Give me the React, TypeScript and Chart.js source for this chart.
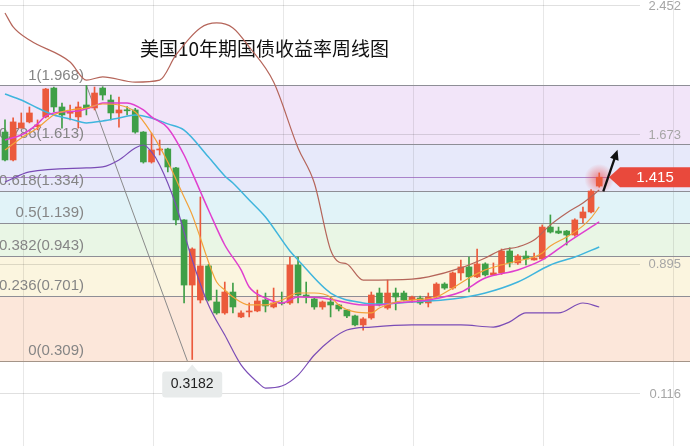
import React, { useEffect, useRef } from 'react';
import { Chart, registerables } from 'chart.js';

Chart.register(...registerables);

const TITLE = '美国10年期国债收益率周线图';

// Weekly candles (index 0..73)
const openP = [
  1.687, 1.519, 1.711, 1.748, 1.720, 1.778, 1.952, 1.838, 1.800, 1.778,
  1.850, 1.832, 1.952, 1.880, 1.802, 1.820, 1.820, 1.687, 1.507, 1.579,
  1.585, 1.471, 1.158, 0.766, 0.676, 0.881, 0.664, 0.598, 0.724, 0.574,
  0.604, 0.610, 0.676, 0.634, 0.660, 0.658, 0.887, 0.706, 0.682, 0.634,
  0.664, 0.646, 0.616, 0.580, 0.526, 0.568, 0.718, 0.628, 0.718, 0.718,
  0.676, 0.688, 0.658, 0.694, 0.772, 0.748, 0.839, 0.875, 0.815, 0.893,
  0.827, 0.839, 0.971, 0.899, 0.941, 0.917, 0.923, 1.115, 1.091, 1.091,
  1.067, 1.170, 1.206, 1.362,
];
const highP = [
  1.760, 1.772, 1.802, 1.838, 1.760, 1.950, 1.958, 1.862, 1.850, 1.868,
  1.968, 1.958, 1.960, 1.910, 1.898, 1.840, 1.830, 1.690, 1.681, 1.639,
  1.590, 1.475, 1.160, 0.990, 1.296, 0.890, 0.736, 0.784, 0.778, 0.610,
  0.658, 0.736, 0.718, 0.748, 0.724, 0.935, 0.935, 0.784, 0.690, 0.670,
  0.694, 0.650, 0.620, 0.585, 0.570, 0.724, 0.748, 0.796, 0.748, 0.730,
  0.700, 0.700, 0.718, 0.780, 0.780, 0.845, 0.917, 0.935, 0.983, 0.900,
  0.899, 0.983, 0.990, 0.950, 0.971, 0.959, 1.128, 1.188, 1.115, 1.095,
  1.165, 1.236, 1.340, 1.441,
];
const lowP = [
  1.513, 1.513, 1.711, 1.742, 1.700, 1.772, 1.808, 1.711, 1.760, 1.711,
  1.790, 1.820, 1.880, 1.760, 1.717, 1.790, 1.680, 1.500, 1.500, 1.549,
  1.447, 1.128, 0.658, 0.318, 0.658, 0.670, 0.590, 0.590, 0.598, 0.570,
  0.574, 0.605, 0.604, 0.628, 0.646, 0.650, 0.658, 0.658, 0.620, 0.620,
  0.574, 0.610, 0.570, 0.520, 0.495, 0.560, 0.640, 0.620, 0.616, 0.670,
  0.660, 0.650, 0.634, 0.690, 0.740, 0.740, 0.796, 0.724, 0.810, 0.820,
  0.827, 0.830, 0.875, 0.890, 0.887, 0.915, 0.920, 1.079, 1.075, 1.007,
  1.060, 1.140, 1.200, 1.355,
];
const closeP = [
  1.519, 1.748, 1.742, 1.802, 1.730, 1.946, 1.838, 1.790, 1.805, 1.838,
  1.832, 1.922, 1.910, 1.802, 1.820, 1.815, 1.687, 1.507, 1.579, 1.585,
  1.477, 1.158, 0.766, 0.983, 0.881, 0.676, 0.598, 0.724, 0.634, 0.598,
  0.610, 0.670, 0.640, 0.658, 0.655, 0.887, 0.706, 0.694, 0.634, 0.664,
  0.646, 0.622, 0.580, 0.526, 0.562, 0.706, 0.646, 0.718, 0.694, 0.676,
  0.694, 0.658, 0.694, 0.772, 0.748, 0.839, 0.875, 0.815, 0.893, 0.827,
  0.839, 0.971, 0.899, 0.941, 0.923, 0.929, 1.115, 1.085, 1.079, 1.067,
  1.158, 1.206, 1.332, 1.415,
];

// Indicator lines (candle index -> value)
const ma5Idx = [0, 2, 4, 6, 8, 10, 12, 14, 16, 18, 20, 22, 23, 24, 25, 26, 27, 28, 30, 32, 34, 36, 38, 40, 41, 43, 45, 46, 48, 50, 53, 55, 57, 59, 61, 63, 65, 66, 67, 69, 71, 72, 73];
const ma5Val = [1.579, 1.651, 1.712, 1.790, 1.820, 1.832, 1.856, 1.850, 1.808, 1.681, 1.507, 1.296, 1.188, 1.049, 0.905, 0.784, 0.736, 0.694, 0.646, 0.646, 0.676, 0.718, 0.718, 0.694, 0.646, 0.604, 0.598, 0.628, 0.664, 0.676, 0.694, 0.748, 0.808, 0.857, 0.887, 0.911, 0.935, 0.959, 1.001, 1.055, 1.122, 1.170, 1.236];

const ma10Idx = [0, 2, 4, 5, 7, 9, 11, 12, 15, 17, 18, 20, 22, 23, 25, 27, 29, 30, 32, 34, 36, 39, 44, 46, 48, 52, 56, 59, 63, 66, 69, 73];
const ma10Val = [1.639, 1.669, 1.736, 1.784, 1.808, 1.814, 1.844, 1.862, 1.862, 1.820, 1.778, 1.712, 1.549, 1.441, 1.218, 1.007, 0.857, 0.754, 0.688, 0.658, 0.694, 0.688, 0.646, 0.646, 0.658, 0.676, 0.724, 0.808, 0.857, 0.917, 1.019, 1.146];

const ma20Idx = [0, 2, 4, 6, 8, 10, 12, 14, 16, 18, 20, 22, 25, 27, 28, 30, 32, 35, 36, 40, 44, 46, 50, 55, 59, 63, 67, 70, 73];
const ma20Val = [1.916, 1.880, 1.832, 1.790, 1.766, 1.742, 1.754, 1.772, 1.790, 1.772, 1.736, 1.699, 1.537, 1.423, 1.380, 1.278, 1.176, 0.971, 0.917, 0.718, 0.658, 0.652, 0.664, 0.682, 0.718, 0.784, 0.887, 0.935, 0.995];

const upperIdx = [0, 1, 3, 8, 10, 12, 16, 19, 21, 24, 26, 28, 30, 33, 36, 38, 40, 41, 42, 44, 50, 52, 56, 59, 61, 63, 65, 67, 69, 71, 73];
const upperVal = [2.404, 2.320, 2.241, 2.109, 2.000, 2.019, 1.988, 2.000, 2.151, 2.314, 2.344, 2.314, 2.199, 1.988, 1.591, 1.380, 0.977, 0.905, 0.893, 0.796, 0.802, 0.815, 0.869, 0.929, 0.977, 0.995, 1.037, 1.128, 1.200, 1.260, 1.338];

const lowerIdx = [0, 3, 10, 12, 14, 16, 17, 18, 19, 21, 23, 25, 27, 29, 31, 32, 34, 36, 38, 40, 42, 45, 50, 56, 60, 62, 64, 68, 71, 73];
const lowerVal = [1.386, 1.447, 1.471, 1.477, 1.519, 1.591, 1.609, 1.567, 1.489, 1.248, 0.917, 0.646, 0.465, 0.285, 0.182, 0.146, 0.158, 0.224, 0.345, 0.435, 0.495, 0.513, 0.526, 0.526, 0.513, 0.544, 0.598, 0.598, 0.658, 0.634];

// Fibonacci retracement
const fibRatios = ['1', '0.786', '0.618', '0.5', '0.382', '0.236', '0'];
const fibLevels = [1.968, 1.613, 1.334, 1.139, 0.943, 0.701, 0.309];
const bandColors = ['#f2e5f9', '#e7e9fa', '#e1f3f8', '#e9f6e5', '#fbf5df', '#fce7da'];
const trendIdx = [10, 22.4];
const trendVal = [1.968, 0.309];

const axisLabels = [2.452, 1.673, 0.895, 0.116];
const gridIdx = [2.2, 18.2, 34.2, 50.1, 66.1, 82.1];

const lastIdx = 73;
const lastPrice = 1.415;
const lowMarkIdx = 23;
const lowMark = 0.3182;
const arrowIdx = [73.5, 75.25];
const arrowVal = [1.33, 1.58];

const X_MIN = -0.614;
const X_MAX = 84.52;
const Y_MIN = -0.203;
const Y_MAX = 2.482;

const RED = '#eb5a3c';
const GREEN = '#3f9f47';
const LATIN = '"Liberation Sans", Arial, sans-serif';

const decorPlugin = {
  id: 'decor',
  beforeDatasetsDraw(chart: any) {
    const { ctx } = chart;
    const xs = chart.scales.x;
    const ys = chart.scales.y;
    const W = 690;
    const H = chart.height;
    ctx.save();
    // fib bands
    for (let k = 0; k < fibLevels.length - 1; k++) {
      const a = Math.round(ys.getPixelForValue(fibLevels[k]));
      const b = Math.round(ys.getPixelForValue(fibLevels[k + 1]));
      ctx.fillStyle = bandColors[k];
      ctx.fillRect(0, a, W, b - a);
    }
    // grid
    ctx.lineWidth = 1;
    ctx.strokeStyle = 'rgba(0,0,0,0.09)';
    gridIdx.forEach((v) => {
      const px = Math.round(xs.getPixelForValue(v)) + 0.5;
      ctx.beginPath();
      ctx.moveTo(px, 0);
      ctx.lineTo(px, H);
      ctx.stroke();
    });
    ctx.strokeStyle = 'rgba(0,0,0,0.12)';
    axisLabels.forEach((v) => {
      const py = Math.round(ys.getPixelForValue(v)) + 0.5;
      ctx.beginPath();
      ctx.moveTo(0, py);
      ctx.lineTo(W - 50, py);
      ctx.stroke();
    });
    // fib lines
    fibLevels.forEach((v, k) => {
      const py = Math.round(ys.getPixelForValue(v)) + 0.5;
      ctx.strokeStyle = k === fibLevels.length - 1 ? '#a49488' : '#8e8e96';
      ctx.beginPath();
      ctx.moveTo(0, py);
      ctx.lineTo(W, py);
      ctx.stroke();
    });
    // current price line
    const pp = Math.round(ys.getPixelForValue(lastPrice)) + 0.5;
    ctx.strokeStyle = 'rgba(150,95,185,0.75)';
    ctx.beginPath();
    ctx.moveTo(0, pp);
    ctx.lineTo(W, pp);
    ctx.stroke();
    // fib labels
    ctx.font = '15px ' + LATIN;
    ctx.fillStyle = '#858585';
    ctx.textAlign = 'right';
    ctx.textBaseline = 'middle';
    fibLevels.forEach((v, k) => {
      const py = ys.getPixelForValue(v) - 10;
      ctx.fillText(fibRatios[k] + '(' + v.toFixed(3) + ')', 84, py);
    });
    // title
    ctx.font = '19px "Noto Sans CJK SC", sans-serif';
    ctx.fillStyle = '#111';
    ctx.textAlign = 'left';
    ctx.fillText(TITLE, 140, 49);
    // glow around last candle
    const gx = xs.getPixelForValue(lastIdx);
    const gy = ys.getPixelForValue(lastPrice - 0.01);
    const g = ctx.createRadialGradient(gx, gy, 0, gx, gy, 15);
    g.addColorStop(0, 'rgba(240,60,60,0.6)');
    g.addColorStop(1, 'rgba(240,60,60,0)');
    ctx.fillStyle = g;
    ctx.beginPath();
    ctx.arc(gx, gy, 15, 0, Math.PI * 2);
    ctx.fill();
    ctx.restore();
  },
  afterDatasetsDraw(chart: any) {
    const { ctx } = chart;
    const xs = chart.scales.x;
    const ys = chart.scales.y;
    ctx.save();
    // right axis labels
    ctx.font = '13px ' + LATIN;
    ctx.fillStyle = '#a6a6a6';
    ctx.textAlign = 'right';
    ctx.textBaseline = 'middle';
    axisLabels.forEach((v) => {
      ctx.fillText(v.toFixed(3), 681, ys.getPixelForValue(v) + 1);
    });
    // arrow
    const x1 = xs.getPixelForValue(arrowIdx[0]);
    const y1 = ys.getPixelForValue(arrowVal[0]);
    const x2 = xs.getPixelForValue(arrowIdx[1]);
    const y2 = ys.getPixelForValue(arrowVal[1]);
    const ang = Math.atan2(y2 - y1, x2 - x1);
    const c = Math.cos(ang);
    const s = Math.sin(ang);
    ctx.strokeStyle = '#111';
    ctx.lineWidth = 2.3;
    ctx.beginPath();
    ctx.moveTo(x1, y1);
    ctx.lineTo(x2 - 6 * c, y2 - 6 * s);
    ctx.stroke();
    ctx.fillStyle = '#111';
    const bx = x2 - 10 * c;
    const by = y2 - 10 * s;
    ctx.beginPath();
    ctx.moveTo(x2, y2);
    ctx.lineTo(bx - 4.5 * s, by + 4.5 * c);
    ctx.lineTo(bx + 4.5 * s, by - 4.5 * c);
    ctx.closePath();
    ctx.fill();
    // price tag
    const py = ys.getPixelForValue(lastPrice);
    ctx.fillStyle = '#e9493c';
    ctx.beginPath();
    ctx.moveTo(609, py);
    ctx.lineTo(620, py - 10);
    ctx.lineTo(690, py - 10);
    ctx.lineTo(690, py + 10);
    ctx.lineTo(620, py + 10);
    ctx.closePath();
    ctx.fill();
    ctx.fillStyle = '#fff';
    ctx.font = '15px ' + LATIN;
    ctx.textAlign = 'center';
    ctx.fillText(lastPrice.toFixed(3), 655, py + 1);
    // low marker tooltip
    const lx = xs.getPixelForValue(lowMarkIdx);
    const ly = ys.getPixelForValue(lowMark);
    const top = ly + 12;
    ctx.fillStyle = '#e8ebeb';
    ctx.beginPath();
    ctx.moveTo(lx, ly + 5);
    ctx.lineTo(lx + 6, top);
    ctx.lineTo(lx + 27, top);
    ctx.quadraticCurveTo(lx + 30, top, lx + 30, top + 3);
    ctx.lineTo(lx + 30, top + 23);
    ctx.quadraticCurveTo(lx + 30, top + 26, lx + 27, top + 26);
    ctx.lineTo(lx - 27, top + 26);
    ctx.quadraticCurveTo(lx - 30, top + 26, lx - 30, top + 23);
    ctx.lineTo(lx - 30, top + 3);
    ctx.quadraticCurveTo(lx - 30, top, lx - 27, top);
    ctx.lineTo(lx - 6, top);
    ctx.closePath();
    ctx.fill();
    ctx.fillStyle = '#222';
    ctx.font = '14px ' + LATIN;
    ctx.fillText(lowMark.toFixed(4), lx, top + 13);
    ctx.restore();
  },
};

const pts = (xsArr: number[], ysArr: number[]) => xsArr.map((x, k) => ({ x, y: ysArr[k] }));

export default function App() {
  const ref = useRef<HTMLCanvasElement | null>(null);

  useEffect(() => {
    if (!ref.current) return;
    const idx = openP.map((_, i) => i);
    const colors = idx.map((i) => (closeP[i] >= openP[i] ? RED : GREEN));
    const lineBase = {
      type: 'line',
      pointRadius: 0,
      fill: false,
      cubicInterpolationMode: 'monotone',
    };
    const chart = new Chart(ref.current, {
      type: 'line',
      data: {
        datasets: [
          { ...lineBase, label: 'MA5', data: pts(ma5Idx, ma5Val), borderColor: '#f3a23a', borderWidth: 1.2, order: 1 },
          { ...lineBase, label: 'MA10', data: pts(ma10Idx, ma10Val), borderColor: '#e03fcf', borderWidth: 1.5, order: 2 },
          { ...lineBase, label: 'MA20', data: pts(ma20Idx, ma20Val), borderColor: '#3fb5dd', borderWidth: 1.5, order: 3 },
          { ...lineBase, label: 'UP', data: pts(upperIdx, upperVal), borderColor: '#b5655a', borderWidth: 1.2, order: 4 },
          { ...lineBase, label: 'DN', data: pts(lowerIdx, lowerVal), borderColor: '#7a4cb6', borderWidth: 1.2, order: 5 },
          { type: 'line', label: 'trend', data: pts(trendIdx, trendVal), borderColor: '#8a8a8a', borderWidth: 1, pointRadius: 0, order: 20 },
          {
            type: 'bar',
            label: 'wick',
            data: idx.map((i) => ({ x: i, y: [lowP[i], highP[i]] })),
            backgroundColor: colors,
            borderWidth: 0,
            barThickness: 1,
            grouped: false,
            order: 11,
          },
          {
            type: 'bar',
            label: 'body',
            data: idx.map((i) => ({ x: i, y: [openP[i], closeP[i]] })),
            backgroundColor: colors,
            borderWidth: 0,
            barThickness: 6,
            minBarLength: 1,
            grouped: false,
            order: 10,
          },
        ],
      } as any,
      options: {
        responsive: false,
        animation: false,
        devicePixelRatio: 1,
        events: [],
        layout: { padding: 0 },
        plugins: { legend: { display: false }, tooltip: { enabled: false } },
        scales: {
          x: { type: 'linear', min: X_MIN, max: X_MAX, display: false, offset: false },
          y: { type: 'linear', min: Y_MIN, max: Y_MAX, display: false },
        },
      } as any,
      plugins: [decorPlugin],
    });
    return () => chart.destroy();
  }, []);

  return (
    <div style={{ position: 'fixed', left: 0, top: 0, width: 693, height: 446, background: '#fff' }}>
      <canvas ref={ref} width={693} height={446} style={{ display: 'block' }} />
    </div>
  );
}
